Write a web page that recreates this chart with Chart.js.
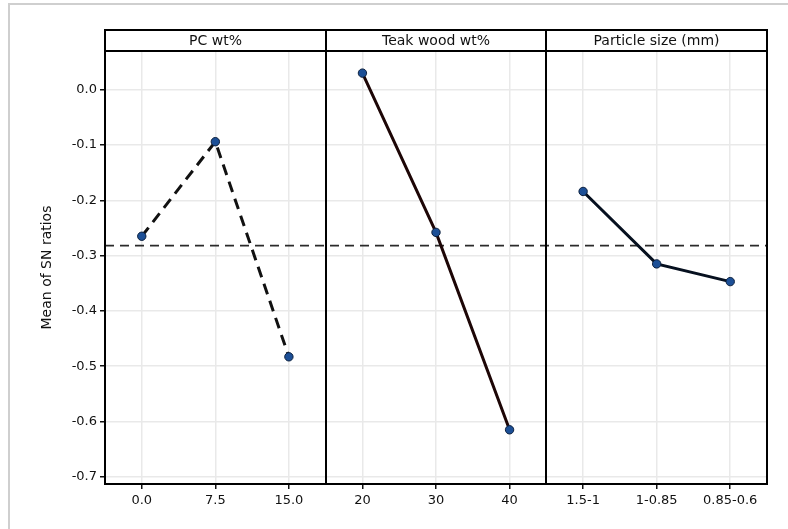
<!DOCTYPE html>
<html>
<head>
<meta charset="utf-8">
<script src="https://cdn.jsdelivr.net/npm/chart.js@4.4.0/dist/chart.umd.min.js"></script>
<style>
  html, body { margin: 0; padding: 0; background: #fff; }
  #wrap { position: relative; width: 788px; height: 529px; overflow: hidden; }
  #frame { position: absolute; left: 8px; top: 3px; width: 800px; height: 600px;
           border-top: 2px solid #cfcfcf; border-left: 2px solid #cfcfcf; }
  canvas { position: absolute; left: 0; top: 0; }
</style>
</head>
<body>
<div id="wrap">
  <div id="frame"></div>
  <canvas id="chart-canvas" width="788" height="529"></canvas>
</div>
<script>
// Main effects plot for SN ratios
const panelTitles = ['PC wt%', 'Teak wood wt%', 'Particle size (mm)'];
const pcLevels = ['0.0', '7.5', '15.0'];
const teakLevels = ['20', '30', '40'];
const sizeLevels = ['1.5-1', '1-0.85', '0.85-0.6'];
const pcMeans = [-0.265, -0.094, -0.483];
const teakMeans = [0.030, -0.258, -0.615];
const sizeMeans = [-0.184, -0.315, -0.347];
const overallMean = -0.282;

const FONT = '"DejaVu Sans", sans-serif';
const TEXT = '#111';
const GRID = '#e9e9e9';

function points(levels, values) {
  return levels.map((l, i) => ({ x: l, y: values[i] }));
}

const pointStyle = {
  pointRadius: 4.2,
  pointHoverRadius: 4.2,
  pointBackgroundColor: '#1c4f96',
  pointBorderColor: '#0b1f3d',
  pointBorderWidth: 1,
  borderWidth: 3,
  fill: false,
  tension: 0
};

// draws panel frames, strip headers and the overall mean line
const panelPlugin = {
  id: 'panels',
  beforeDatasetsDraw(chart) {
    const { ctx, chartArea: a, scales: { y } } = chart;
    const yy = y.getPixelForValue(overallMean);
    ctx.save();
    ctx.strokeStyle = '#2a2a2a';
    ctx.lineWidth = 1.8;
    ctx.setLineDash([9, 6]);
    ctx.beginPath();
    ctx.moveTo(a.left, yy);
    ctx.lineTo(a.right, yy);
    ctx.stroke();
    ctx.restore();
  },
  afterDraw(chart) {
    const { ctx, chartArea: a, scales: { x } } = chart;
    const bounds = [a.left];
    for (let p = 1; p < panelTitles.length; p++) {
      bounds.push(Math.round((x.getPixelForTick(p * 3 - 1) + x.getPixelForTick(p * 3)) / 2));
    }
    bounds.push(a.right);
    const stripTop = a.top - 21;

    ctx.save();
    ctx.strokeStyle = '#000';
    ctx.lineWidth = 2;
    ctx.setLineDash([]);
    // outer frame including strip
    ctx.strokeRect(a.left, stripTop, a.right - a.left, a.bottom - stripTop);
    ctx.beginPath();
    ctx.moveTo(a.left, a.top);
    ctx.lineTo(a.right, a.top);
    for (let i = 1; i < bounds.length - 1; i++) {
      ctx.moveTo(bounds[i], stripTop);
      ctx.lineTo(bounds[i], a.bottom);
    }
    ctx.stroke();

    ctx.fillStyle = TEXT;
    ctx.font = '14px ' + FONT;
    ctx.textAlign = 'center';
    ctx.textBaseline = 'middle';
    panelTitles.forEach((t, i) => {
      ctx.fillText(t, (bounds[i] + bounds[i + 1]) / 2, stripTop + 11);
    });
    ctx.restore();
  }
};

const ctx = document.getElementById('chart-canvas').getContext('2d');
new Chart(ctx, {
  type: 'line',
  data: {
    labels: [...pcLevels, ...teakLevels, ...sizeLevels],
    datasets: [
      Object.assign({ label: panelTitles[0], data: points(pcLevels, pcMeans),
        borderColor: '#111', borderDash: [11, 7] }, pointStyle),
      Object.assign({ label: panelTitles[1], data: points(teakLevels, teakMeans),
        borderColor: '#1d0606' }, pointStyle),
      Object.assign({ label: panelTitles[2], data: points(sizeLevels, sizeMeans),
        borderColor: '#06101f' }, pointStyle)
    ]
  },
  options: {
    responsive: false,
    animation: false,
    layout: { padding: { left: 35, top: 51, right: 21, bottom: 0 } },
    plugins: { legend: { display: false }, tooltip: { enabled: false } },
    scales: {
      x: {
        type: 'category',
        offset: true,
        afterFit(s) { s.height = 45; },
        ticks: { font: { family: FONT, size: 13 }, color: TEXT, padding: 4,
                 maxRotation: 0, autoSkip: false },
        grid: { color: GRID, lineWidth: 1.5, offset: false, tickColor: TEXT,
                tickLength: 5, tickWidth: 1.5 },
        border: { display: false }
      },
      y: {
        min: -0.713,
        max: 0.07,
        afterFit(s) { s.width = 70; },
        ticks: {
          stepSize: 0.1,
          includeBounds: false,
          font: { family: FONT, size: 13 },
          color: TEXT,
          padding: 3,
          callback: v => (Math.abs(v) < 1e-9 ? '0.0' : v.toFixed(1))
        },
        grid: { color: GRID, lineWidth: 1.5, tickColor: TEXT, tickLength: 5, tickWidth: 1.5 },
        border: { display: false },
        title: { display: true, text: 'Mean of SN ratios', color: TEXT,
                 font: { family: FONT, size: 14 }, padding: { top: 4, bottom: 4 } }
      }
    }
  },
  plugins: [panelPlugin]
});
</script>
</body>
</html>
